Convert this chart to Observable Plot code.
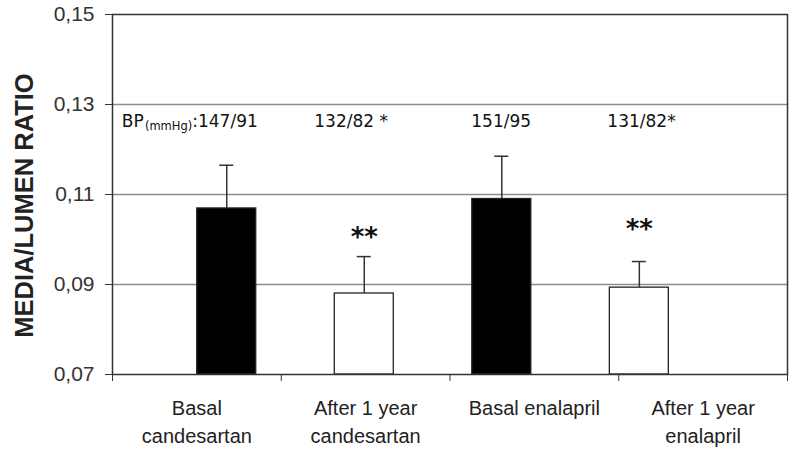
<!DOCTYPE html>
<html><head><meta charset="utf-8">
<script src="https://cdn.jsdelivr.net/npm/d3@7"></script>
<script src="https://cdn.jsdelivr.net/npm/@observablehq/plot@0.6"></script>
<style>body{margin:0;background:#fff}</style>
</head><body><div id="chart"></div>
<script>
// ---- data ----
const categories = ["Basal\ncandesartan", "After 1 year\ncandesartan", "Basal enalapril", "After 1 year\nenalapril"];
const ratioMean = [0.1069, 0.0880, 0.1090, 0.0893];
const ratioErrTop = [0.1165, 0.0962, 0.1185, 0.0951];
const barGroup = ["basal", "after", "basal", "after"];
const bpLabels = [":147/91", "132/82 *", "151/95", "131/82*"];
const sigLabels = ["", "**", "", "**"];
const sigY = [null, 0.1016, null, 0.1035];
const yTicks = [0.07, 0.09, 0.11, 0.13, 0.15];
const yTitle = "MEDIA/LUMEN RATIO";

// ---- layout ----
const W = 789, H = 450, ML = 112, MR = 2, MT = 14, MB = 76;
const PX = (W - ML - MR) / 4;          // px per x unit
const BAR_OFFSET = 0.677, BAR_STEP = 0.815, BAR_HALF = 29.5 / PX, CAP_HALF = 7 / PX;
const BP_DX = [-34.5, -50, -30.5, -32];

const rows = categories.map((c, i) => ({
  c, i,
  center: BAR_OFFSET + i * BAR_STEP,
  mean: ratioMean[i], err: ratioErrTop[i], group: barGroup[i],
  bp: bpLabels[i], sig: sigLabels[i], sigY: sigY[i]
}));

const chart = Plot.plot({
  width: W, height: H,
  marginLeft: ML, marginRight: MR, marginTop: MT, marginBottom: MB,
  style: {fontFamily: "'Liberation Sans', Arial, sans-serif", fontSize: "21px", color: "#333", background: "#fff"},
  x: {domain: [0, 4], ticks: [0, 1, 2, 3, 4], tickFormat: () => "", tickSize: 7, label: null},
  y: {domain: [0.07, 0.15], ticks: yTicks, tickFormat: d => d.toFixed(2).replace(".", ","), tickSize: 7, tickPadding: 11, label: null},
  color: {domain: ["basal", "after"], range: ["#000", "#fff"]},
  marks: [
    Plot.ruleY(yTicks.slice(1, 4), {stroke: "#8c8c8c", strokeWidth: 1.5}),
    Plot.rectY(rows, {x1: d => d.center - BAR_HALF, x2: d => d.center + BAR_HALF, y1: 0.07, y2: "mean", fill: "group", stroke: "#222", strokeWidth: 1.3}),
    Plot.ruleX(rows, {x: "center", y1: "mean", y2: "err", stroke: "#333", strokeWidth: 1.5}),
    Plot.ruleY(rows, {y: "err", x1: d => d.center - CAP_HALF, x2: d => d.center + CAP_HALF, stroke: "#333", strokeWidth: 1.5}),
    Plot.frame({stroke: "#333", strokeWidth: 1.5}),
    Plot.text(rows.filter(d => d.sig), {x: "center", y: "sigY", text: "sig", fontSize: 26, fontWeight: "bold", fontFamily: "'DejaVu Sans', sans-serif", fill: "#111", lineAnchor: "bottom", dy: 14}),
    Plot.text(rows, {x: d => d.center + BP_DX[d.i] / PX, frameAnchor: "top", text: "bp", textAnchor: "start", lineAnchor: "bottom", dy: 112.7, fontSize: 17, fontFamily: "'DejaVu Sans', sans-serif", fill: "#111"}),
    Plot.text(rows.slice(0, 1), {x: d => d.center + BP_DX[0] / PX, frameAnchor: "top", text: () => "(mmHg)", textAnchor: "end", lineAnchor: "bottom", dy: 115, fontSize: 11.5, fontFamily: "'DejaVu Sans', sans-serif", fill: "#111"}),
    Plot.text(rows.slice(0, 1), {x: d => d.center - 83 / PX, frameAnchor: "top", text: () => "BP", textAnchor: "end", lineAnchor: "bottom", dy: 112.7, fontSize: 17, fontFamily: "'DejaVu Sans', sans-serif", fill: "#111"}),
    Plot.text(rows, {x: d => d.i + 0.5, frameAnchor: "bottom", text: "c", lineAnchor: "top", dy: 20, fontSize: 20, lineHeight: 1.42, fill: "#222"}),
    Plot.text([yTitle], {frameAnchor: "left", text: d => d, rotate: -90, textAnchor: "middle", dx: -88, dy: 11, fontSize: 25.5, fontWeight: "bold", fill: "#222"})
  ]
});
document.getElementById("chart").appendChild(chart);
</script>
</body></html>
